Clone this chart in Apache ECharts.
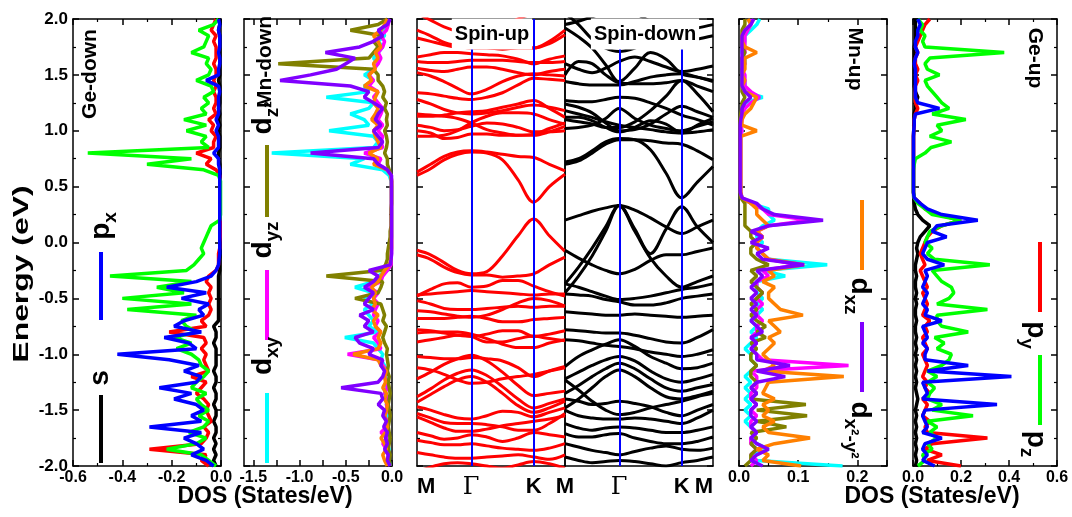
<!DOCTYPE html>
<html lang="en">
<head>
<meta charset="UTF-8">
<title>DOS and band structure</title>
<script src="https://cdn.jsdelivr.net/npm/echarts@6/dist/echarts.min.js"></script>
<style>
  html, body { margin: 0; padding: 0; background: #fff; }
  #chart { width: 1072px; height: 517px; }
</style>
</head>
<body>
<div id="chart"></div>
<script>
// energy grid of the DOS curves (eV)
var energy = [-2.00,-1.95,-1.90,-1.85,-1.80,-1.75,-1.70,-1.65,-1.60,-1.55,
  -1.50,-1.45,-1.40,-1.35,-1.30,-1.25,-1.20,-1.15,-1.10,-1.05,
  -1.00,-0.95,-0.90,-0.85,-0.80,-0.75,-0.70,-0.65,-0.60,-0.55,
  -0.50,-0.45,-0.40,-0.35,-0.30,-0.25,-0.20,-0.15,-0.10,-0.05,
  0.00,0.05,0.10,0.15,0.20,0.25,0.30,0.35,0.40,0.45,
  0.50,0.55,0.60,0.65,0.70,0.75,0.80,0.85,0.90,0.95,
  1.00,1.05,1.10,1.15,1.20,1.25,1.30,1.35,1.40,1.45,
  1.50,1.55,1.60,1.65,1.70,1.75,1.80,1.85,1.90,1.95,
  2.00];

// Ge spin-down PDOS (negative side)
var geDownS = [-0.02,-0.03,-0.02,-0.03,-0.02,-0.03,-0.02,-0.02,-0.03,-0.02,
  -0.02,-0.03,-0.02,-0.02,-0.03,-0.02,-0.02,-0.03,-0.02,-0.02,
  -0.02,-0.02,-0.03,-0.02,-0.02,-0.03,-0.01,-0.01,-0.01,-0.01,
  -0.01,-0.01,-0.01,-0.01,-0.01,-0.005,-0.005,-0.005,-0.003,-0.003,
  -0.003,-0.003,-0.003,-0.003,-0.003,-0.003,-0.003,-0.003,-0.003,-0.003,
  -0.003,-0.003,-0.003,-0.005,-0.005,-0.01,-0.01,-0.005,-0.005,-0.005,
  -0.01,-0.005,-0.01,-0.005,-0.01,-0.005,-0.005,-0.005,-0.005,-0.01,
  -0.005,-0.005,-0.005,-0.005,-0.005,-0.005,-0.005,-0.005,-0.01,-0.005,
  -0.005];
var geDownPy = [-0.05,-0.08,-0.06,-0.29,-0.08,-0.06,-0.05,-0.07,-0.04,-0.05,
  -0.06,-0.05,-0.07,-0.10,-0.08,-0.06,-0.12,-0.05,-0.06,-0.07,
  -0.06,-0.08,-0.06,-0.07,-0.21,-0.06,-0.08,-0.05,-0.04,-0.05,
  -0.04,-0.05,-0.04,-0.06,-0.05,-0.02,-0.01,-0.01,-0.01,-0.005,
  -0.005,-0.003,-0.003,-0.003,-0.003,-0.003,-0.003,-0.003,-0.003,-0.003,
  -0.003,-0.003,-0.005,-0.02,-0.06,-0.04,-0.10,-0.03,-0.03,-0.02,
  -0.04,-0.03,-0.05,-0.02,-0.03,-0.02,-0.02,-0.03,-0.02,-0.03,
  -0.02,-0.02,-0.03,-0.02,-0.02,-0.02,-0.03,-0.02,-0.04,-0.03,
  -0.02];
var geDownPz = [-0.02,-0.05,-0.08,-0.22,-0.10,-0.06,-0.13,-0.07,-0.05,-0.09,
  -0.05,-0.08,-0.10,-0.06,-0.12,-0.10,-0.07,-0.05,-0.08,-0.09,
  -0.12,-0.18,-0.12,-0.19,-0.10,-0.14,-0.16,-0.10,-0.38,-0.12,
  -0.40,-0.15,-0.26,-0.12,-0.45,-0.14,-0.11,-0.09,-0.07,-0.08,
  -0.07,-0.06,-0.05,-0.04,-0.005,-0.002,-0.002,-0.002,-0.002,-0.002,
  -0.002,-0.002,-0.01,-0.07,-0.30,-0.12,-0.54,-0.05,-0.08,-0.06,
  -0.14,-0.06,-0.15,-0.06,-0.08,-0.05,-0.07,-0.03,-0.04,-0.10,
  -0.05,-0.04,-0.06,-0.05,-0.12,-0.07,-0.06,-0.05,-0.09,-0.03,
  -0.01];
var geDownPx = [-0.03,-0.06,-0.12,-0.07,-0.10,-0.15,-0.08,-0.29,-0.08,-0.12,
  -0.07,-0.10,-0.19,-0.12,-0.25,-0.10,-0.08,-0.15,-0.09,-0.21,
  -0.42,-0.10,-0.13,-0.23,-0.08,-0.19,-0.15,-0.07,-0.09,-0.05,
  -0.16,-0.06,-0.22,-0.10,-0.04,-0.02,-0.01,-0.008,-0.005,-0.005,
  -0.005,-0.005,-0.005,-0.005,-0.005,-0.005,-0.005,-0.005,-0.005,-0.005,
  -0.005,-0.005,-0.005,-0.005,-0.01,-0.01,-0.03,-0.01,-0.01,-0.01,
  -0.02,-0.01,-0.02,-0.01,-0.01,-0.01,-0.01,-0.005,-0.01,-0.06,
  -0.01,-0.01,-0.005,-0.005,-0.01,-0.005,-0.005,-0.005,-0.01,-0.005,
  -0.01];

// Mn spin-down PDOS
var mnDownDxy = [-0.02,-0.03,-0.04,-0.03,-0.05,-0.03,-0.04,-0.06,-0.04,-0.05,
  -0.04,-0.06,-0.05,-0.08,-0.06,-0.05,-0.07,-0.06,-0.08,-0.12,
  -0.10,-0.15,-0.20,-0.51,-0.15,-0.25,-0.20,-0.25,-0.30,-0.20,
  -0.30,-0.20,-0.40,-0.20,-0.15,-0.05,-0.02,-0.01,-0.01,-0.01,
  -0.01,-0.005,-0.005,-0.005,-0.005,-0.005,-0.005,-0.005,-0.005,-0.005,
  -0.005,-0.01,-0.03,-0.10,-0.45,-0.30,-1.30,-0.20,-0.15,-0.20,
  -0.68,-0.25,-0.30,-0.45,-0.25,-0.20,-0.71,-0.25,-0.30,-0.20,
  -0.30,-0.20,-0.15,-0.20,-0.15,-0.10,-0.15,-0.08,-0.10,-0.05,
  -0.03];
var mnDownDyz = [-0.03,-0.05,-0.04,-0.06,-0.10,-0.05,-0.12,-0.06,-0.05,-0.08,
  -0.05,-0.06,-0.04,-0.08,-0.05,-0.06,-0.08,-0.05,-0.10,-0.15,
  -0.48,-0.12,-0.15,-0.20,-0.12,-0.18,-0.15,-0.20,-0.18,-0.15,
  -0.20,-0.15,-0.25,-0.12,-0.10,-0.05,-0.01,-0.01,-0.005,-0.005,
  -0.005,-0.005,-0.005,-0.005,-0.005,-0.005,-0.005,-0.005,-0.005,-0.005,
  -0.005,-0.005,-0.01,-0.05,-0.15,-0.12,-0.30,-0.10,-0.12,-0.10,
  -0.15,-0.10,-0.15,-0.12,-0.10,-0.15,-0.20,-0.15,-0.25,-0.20,
  -0.25,-0.20,-0.15,-0.12,-0.15,-0.10,-0.08,-0.12,-0.06,-0.04,
  -0.03];
var mnDownDz2 = [-0.02,-0.03,-0.02,-0.04,-0.03,-0.02,-0.03,-0.04,-0.03,-0.02,
  -0.03,-0.04,-0.03,-0.02,-0.03,-0.04,-0.03,-0.05,-0.04,-0.05,
  -0.06,-0.05,-0.08,-0.10,-0.08,-0.06,-0.10,-0.08,-0.10,-0.12,
  -0.40,-0.15,-0.12,-0.10,-0.71,-0.12,-0.07,-0.05,-0.05,-0.04,
  -0.03,-0.02,-0.02,-0.01,-0.01,-0.01,-0.01,-0.005,-0.005,-0.005,
  -0.005,-0.005,-0.01,-0.03,-0.05,-0.05,-0.08,-0.06,-0.05,-0.06,
  -0.08,-0.05,-0.06,-0.05,-0.08,-0.06,-0.10,-0.08,-0.10,-0.15,
  -0.15,-0.20,-1.23,-0.25,-0.20,-0.15,-0.20,-0.10,-0.45,-0.15,
  -0.05];
var mnDownDxz = [-0.05,-0.08,-0.10,-0.06,-0.08,-0.12,-0.07,-0.05,-0.06,-0.08,
  -0.06,-0.05,-0.08,-0.06,-0.10,-0.07,-0.08,-0.06,-0.12,-0.15,
  -0.42,-0.15,-0.12,-0.15,-0.12,-0.18,-0.20,-0.15,-0.22,-0.18,
  -0.20,-0.18,-0.22,-0.15,-0.12,-0.08,-0.03,-0.01,-0.01,-0.005,
  -0.005,-0.005,-0.005,-0.005,-0.005,-0.005,-0.005,-0.005,-0.005,-0.005,
  -0.005,-0.005,-0.01,-0.05,-0.20,-0.15,-0.25,-0.12,-0.15,-0.18,
  -0.20,-0.15,-0.22,-0.18,-0.15,-0.20,-0.18,-0.15,-0.30,-0.22,
  -0.25,-0.18,-0.20,-0.15,-0.18,-0.12,-0.15,-0.20,-0.12,-0.08,
  -0.05];
var mnDownDx2y2 = [-0.02,-0.05,-0.04,-0.08,-0.05,-0.07,-0.05,-0.09,-0.06,-0.10,
  -0.08,-0.15,-0.10,-0.12,-0.55,-0.15,-0.10,-0.08,-0.12,-0.10,
  -0.25,-0.20,-0.35,-0.40,-0.20,-0.30,-0.25,-0.35,-0.20,-0.30,
  -0.25,-0.20,-0.30,-0.20,-0.15,-0.25,-0.02,-0.01,-0.005,-0.005,
  -0.005,-0.005,-0.005,-0.005,-0.005,-0.005,-0.005,-0.005,-0.005,-0.005,
  -0.005,-0.005,-0.005,-0.05,-0.15,-0.20,-0.88,-0.15,-0.10,-0.15,
  -0.20,-0.12,-0.18,-0.15,-0.10,-0.20,-0.30,-0.25,-0.45,-1.21,
  -0.88,-0.60,-0.50,-0.40,-0.72,-0.35,-0.20,-0.10,-0.15,-0.05,
  -0.02];

// Mn spin-up PDOS
var mnUpDxy = [0.175,0.03,0.02,0.05,0.03,0.02,0.03,0.02,0.01,0.02,
  0.01,0.02,0.01,0.02,0.01,0.02,0.01,0.02,0.03,0.02,
  0.02,0.01,0.02,0.03,0.02,0.03,0.02,0.03,0.04,0.03,
  0.04,0.03,0.03,0.03,0.078,0.04,0.149,0.05,0.04,0.03,
  0.04,0.03,0.03,0.04,0.06,0.05,0.05,0.02,0.005,0.003,
  0.003,0.003,0.003,0.003,0.003,0.003,0.003,0.003,0.003,0.003,
  0.005,0.003,0.003,0.005,0.01,0.01,0.04,0.01,0.01,0.01,
  0.005,0.005,0.01,0.01,0.005,0.005,0.01,0.01,0.02,0.03,
  0.035];
var mnUpDyz = [0.02,0.03,0.02,0.03,0.02,0.02,0.03,0.02,0.02,0.03,
  0.02,0.03,0.02,0.02,0.03,0.03,0.03,0.02,0.185,0.04,
  0.03,0.02,0.03,0.02,0.03,0.03,0.04,0.03,0.03,0.04,
  0.03,0.04,0.03,0.03,0.05,0.04,0.10,0.05,0.04,0.03,
  0.03,0.04,0.03,0.05,0.12,0.05,0.04,0.02,0.005,0.003,
  0.003,0.003,0.003,0.003,0.003,0.003,0.003,0.003,0.003,0.003,
  0.005,0.003,0.005,0.005,0.01,0.02,0.035,0.02,0.01,0.01,
  0.01,0.005,0.01,0.005,0.01,0.01,0.01,0.01,0.015,0.02,
  0.02];
var mnUpDz2 = [0.01,0.02,0.02,0.03,0.02,0.03,0.02,0.08,0.03,0.115,
  0.03,0.113,0.02,0.03,0.02,0.03,0.02,0.02,0.03,0.02,
  0.02,0.03,0.02,0.045,0.03,0.045,0.03,0.02,0.03,0.02,
  0.03,0.04,0.03,0.02,0.03,0.02,0.05,0.03,0.02,0.02,
  0.03,0.02,0.02,0.01,0.01,0.01,0.01,0.01,0.003,0.002,
  0.002,0.002,0.002,0.002,0.002,0.002,0.002,0.002,0.002,0.002,
  0.002,0.002,0.002,0.003,0.005,0.005,0.01,0.005,0.005,0.005,
  0.005,0.005,0.005,0.005,0.01,0.005,0.005,0.005,0.005,0.01,
  0.01];
var mnUpDxz = [0.105,0.04,0.05,0.03,0.06,0.12,0.05,0.04,0.06,0.04,
  0.05,0.04,0.06,0.04,0.045,0.05,0.177,0.04,0.06,0.05,
  0.04,0.05,0.06,0.05,0.07,0.06,0.05,0.108,0.07,0.06,
  0.05,0.05,0.06,0.04,0.06,0.05,0.11,0.05,0.04,0.03,
  0.03,0.04,0.03,0.05,0.04,0.03,0.03,0.02,0.005,0.003,
  0.003,0.003,0.003,0.003,0.003,0.003,0.003,0.003,0.003,0.003,
  0.03,0.005,0.005,0.01,0.02,0.025,0.03,0.01,0.005,0.01,
  0.005,0.01,0.01,0.01,0.03,0.01,0.005,0.005,0.01,0.02,
  0.015];
var mnUpDx2y2 = [0.04,0.02,0.03,0.05,0.03,0.02,0.03,0.02,0.03,0.02,
  0.02,0.03,0.02,0.03,0.02,0.03,0.078,0.03,0.086,0.03,
  0.03,0.02,0.03,0.02,0.04,0.03,0.02,0.03,0.02,0.03,
  0.02,0.03,0.02,0.03,0.04,0.03,0.11,0.04,0.03,0.05,
  0.02,0.04,0.02,0.05,0.142,0.06,0.04,0.03,0.005,0.002,
  0.002,0.002,0.002,0.002,0.002,0.002,0.002,0.002,0.002,0.002,
  0.002,0.002,0.003,0.005,0.005,0.01,0.02,0.01,0.005,0.005,
  0.005,0.005,0.005,0.005,0.005,0.005,0.005,0.005,0.01,0.02,
  0.025];

// Ge spin-up PDOS
var geUpS = [0.01,0.015,0.01,0.015,0.01,0.015,0.01,0.015,0.01,0.015,
  0.01,0.015,0.02,0.015,0.01,0.015,0.01,0.015,0.01,0.015,
  0.01,0.015,0.01,0.015,0.01,0.01,0.015,0.01,0.01,0.015,
  0.01,0.015,0.01,0.01,0.015,0.01,0.01,0.015,0.02,0.015,
  0.02,0.03,0.05,0.07,0.04,0.02,0.01,0.005,0.003,0.002,
  0.002,0.002,0.002,0.002,0.002,0.002,0.002,0.002,0.002,0.002,
  0.003,0.003,0.005,0.005,0.01,0.01,0.02,0.01,0.005,0.005,
  0.005,0.005,0.005,0.005,0.005,0.005,0.01,0.01,0.01,0.01,
  0.01];
var geUpPy = [0.20,0.06,0.12,0.05,0.08,0.31,0.06,0.05,0.07,0.04,
  0.05,0.06,0.04,0.07,0.05,0.06,0.04,0.05,0.06,0.05,
  0.04,0.06,0.05,0.04,0.06,0.05,0.07,0.04,0.05,0.06,
  0.05,0.04,0.06,0.05,0.04,0.03,0.05,0.04,0.03,0.04,
  0.05,0.06,0.08,0.12,0.20,0.10,0.05,0.03,0.005,0.002,
  0.002,0.002,0.002,0.002,0.002,0.002,0.002,0.002,0.002,0.002,
  0.003,0.005,0.005,0.01,0.02,0.01,0.01,0.01,0.01,0.02,
  0.01,0.02,0.01,0.01,0.02,0.01,0.02,0.03,0.04,0.05,
  0.07];
var geUpPz = [0.02,0.05,0.04,0.08,0.06,0.10,0.07,0.10,0.06,0.25,
  0.08,0.12,0.06,0.07,0.09,0.06,0.10,0.06,0.12,0.15,
  0.16,0.10,0.13,0.09,0.23,0.12,0.10,0.10,0.31,0.10,
  0.15,0.17,0.16,0.12,0.10,0.08,0.32,0.09,0.06,0.08,
  0.05,0.06,0.07,0.12,0.20,0.08,0.05,0.02,0.005,0.002,
  0.002,0.002,0.002,0.002,0.005,0.01,0.05,0.075,0.16,0.07,
  0.12,0.10,0.22,0.08,0.15,0.12,0.10,0.08,0.06,0.05,
  0.11,0.06,0.05,0.07,0.38,0.05,0.04,0.05,0.03,0.04,
  0.02];
var geUpPx = [0.09,0.04,0.06,0.04,0.05,0.12,0.04,0.06,0.05,0.04,
  0.05,0.35,0.04,0.06,0.05,0.04,0.41,0.06,0.23,0.05,
  0.05,0.06,0.04,0.06,0.05,0.04,0.12,0.05,0.06,0.04,
  0.05,0.06,0.04,0.05,0.06,0.05,0.13,0.06,0.04,0.05,
  0.06,0.14,0.08,0.10,0.27,0.12,0.06,0.03,0.005,0.002,
  0.002,0.002,0.002,0.002,0.002,0.002,0.002,0.002,0.002,0.002,
  0.003,0.005,0.005,0.01,0.11,0.02,0.01,0.01,0.01,0.01,
  0.01,0.01,0.005,0.01,0.02,0.01,0.01,0.02,0.02,0.03,
  0.02];

// k-path M-Γ-K-M and band energies sampled on it
var kPath = [0, 0.2165, 0.433, 0.6495, 0.866, 1.116, 1.366, 1.616, 1.866, 2.116, 2.366];
var kTicks = [0, 0.866, 1.866, 2.366];
var kNames = ['M', 'Γ', 'K', 'M'];

var upBands = [
  [0.60, 0.66, 0.74, 0.79, 0.81, 0.80, 0.74, 0.56, 0.36, 0.50, 0.61],
  [0.63, 0.70, 0.77, 0.81, 0.82, 0.81, 0.79, 0.77, 0.76, 0.70, 0.64],
  [1.00, 0.98, 0.93, 0.94, 0.97, 0.97, 0.96, 0.96, 0.96, 0.99, 1.04],
  [1.05, 1.03, 1.00, 1.01, 1.04, 1.07, 1.06, 1.03, 0.99, 0.99, 1.00],
  [0.95, 0.95, 0.96, 1.00, 1.07, 1.13, 1.16, 1.16, 1.15, 1.10, 1.06],
  [1.15, 1.14, 1.13, 1.11, 1.07, 1.01, 0.98, 0.96, 0.97, 1.02, 1.07],
  [1.13, 1.13, 1.14, 1.16, 1.17, 1.18, 1.21, 1.24, 1.27, 1.20, 1.12],
  [1.28, 1.24, 1.19, 1.16, 1.15, 1.16, 1.18, 1.21, 1.23, 1.21, 1.18],
  [1.52, 1.49, 1.44, 1.38, 1.33, 1.37, 1.44, 1.49, 1.51, 1.50, 1.49],
  [1.34, 1.33, 1.31, 1.29, 1.28, 1.30, 1.34, 1.41, 1.47, 1.46, 1.45],
  [1.56, 1.54, 1.53, 1.55, 1.57, 1.57, 1.55, 1.52, 1.50, 1.53, 1.55],
  [1.62, 1.61, 1.61, 1.62, 1.63, 1.63, 1.63, 1.62, 1.61, 1.61, 1.62],
  [1.66, 1.68, 1.70, 1.70, 1.69, 1.68, 1.67, 1.64, 1.60, 1.64, 1.67],
  [1.90, 1.85, 1.79, 1.76, 1.74, 1.74, 1.73, 1.74, 1.74, 1.80, 1.90],
  [1.83, 1.80, 1.77, 1.75, 1.75, 1.76, 1.78, 1.77, 1.74, 1.78, 1.86],
  [2.05, 1.99, 1.93, 1.89, 1.87, 1.89, 1.94, 2.00, 2.05, 2.06, 2.03],
  [-0.07, -0.11, -0.18, -0.25, -0.28, -0.26, -0.12, 0.06, 0.21, 0.06, -0.08],
  [-0.11, -0.15, -0.22, -0.27, -0.29, -0.29, -0.31, -0.30, -0.28, -0.20, -0.13],
  [-0.47, -0.46, -0.45, -0.44, -0.43, -0.44, -0.45, -0.46, -0.47, -0.46, -0.46],
  [-0.48, -0.42, -0.37, -0.36, -0.40, -0.39, -0.34, -0.34, -0.39, -0.44, -0.48],
  [-0.52, -0.55, -0.59, -0.60, -0.60, -0.59, -0.58, -0.57, -0.58, -0.57, -0.57],
  [-0.61, -0.62, -0.64, -0.66, -0.67, -0.65, -0.60, -0.54, -0.50, -0.52, -0.57],
  [-0.68, -0.68, -0.68, -0.67, -0.66, -0.68, -0.71, -0.71, -0.69, -0.68, -0.67],
  [-0.78, -0.79, -0.81, -0.83, -0.84, -0.82, -0.79, -0.79, -0.84, -0.82, -0.79],
  [-0.81, -0.80, -0.80, -0.80, -0.82, -0.86, -0.91, -0.94, -0.94, -0.90, -0.87],
  [-0.89, -0.87, -0.85, -0.83, -0.84, -0.89, -0.89, -0.86, -0.84, -0.86, -0.88],
  [-1.22, -1.16, -1.09, -1.04, -1.01, -1.06, -1.16, -1.28, -1.37, -1.35, -1.33],
  [-1.38, -1.31, -1.23, -1.17, -1.14, -1.19, -1.29, -1.40, -1.48, -1.44, -1.40],
  [-1.43, -1.36, -1.29, -1.23, -1.20, -1.25, -1.35, -1.46, -1.52, -1.48, -1.42],
  [-1.02, -1.03, -1.04, -1.04, -1.03, -1.04, -1.06, -1.12, -1.20, -1.15, -1.11],
  [-1.12, -1.14, -1.18, -1.23, -1.26, -1.25, -1.22, -1.20, -1.18, -1.15, -1.12],
  [-1.53, -1.57, -1.61, -1.62, -1.62, -1.63, -1.65, -1.68, -1.68, -1.62, -1.53],
  [-1.56, -1.61, -1.66, -1.69, -1.69, -1.67, -1.64, -1.62, -1.60, -1.58, -1.55],
  [-1.77, -1.79, -1.81, -1.81, -1.80, -1.82, -1.84, -1.85, -1.86, -1.84, -1.80],
  [-1.88, -1.90, -1.92, -1.93, -1.93, -1.92, -1.91, -1.90, -1.92, -1.94, -1.90],
  [-1.70, -1.73, -1.76, -1.75, -1.72, -1.74, -1.78, -1.75, -1.70, -1.72, -1.74],
  [-1.47, -1.50, -1.54, -1.57, -1.58, -1.55, -1.51, -1.52, -1.56, -1.52, -1.48],
  [-2.05, -2.01, -1.98, -1.97, -1.98, -2.00, -2.02, -1.99, -1.96, -1.98, -2.02]
];

var downBands = [
  [0.72, 0.75, 0.82, 0.90, 0.93, 0.92, 0.83, 0.62, 0.40, 0.54, 0.68],
  [0.70, 0.73, 0.80, 0.88, 0.92, 0.92, 0.91, 0.89, 0.88, 0.82, 0.74],
  [1.12, 1.12, 1.09, 1.03, 0.99, 1.03, 1.09, 1.06, 0.98, 1.05, 1.11],
  [1.02, 1.03, 1.05, 1.11, 1.20, 1.11, 1.05, 1.02, 1.00, 1.04, 1.08],
  [1.27, 1.26, 1.26, 1.28, 1.30, 1.29, 1.25, 1.20, 1.14, 1.10, 1.05],
  [1.24, 1.21, 1.16, 1.07, 1.00, 1.01, 1.06, 1.15, 1.22, 1.17, 1.12],
  [1.10, 1.08, 1.06, 1.03, 1.03, 1.08, 1.18, 1.31, 1.45, 1.33, 1.17],
  [1.92, 1.84, 1.74, 1.59, 1.44, 1.56, 1.70, 1.64, 1.51, 1.48, 1.45],
  [1.50, 1.62, 1.60, 1.50, 1.43, 1.42, 1.42, 1.43, 1.45, 1.40, 1.35],
  [1.44, 1.42, 1.41, 1.41, 1.41, 1.44, 1.48, 1.50, 1.51, 1.48, 1.44],
  [2.05, 1.95, 1.82, 1.74, 1.71, 1.74, 1.80, 1.84, 1.80, 1.82, 1.85],
  [1.18, 1.15, 1.12, 1.08, 1.05, 1.03, 1.01, 0.99, 0.98, 0.99, 1.01],
  [1.95, 1.98, 2.02, 2.06, 2.08, 2.05, 1.98, 1.93, 1.90, 1.92, 1.95],
  [1.60, 1.55, 1.52, 1.56, 1.62, 1.66, 1.62, 1.57, 1.53, 1.55, 1.58],
  [0.20, 0.24, 0.28, 0.31, 0.33, 0.29, 0.22, 0.14, 0.08, 0.14, 0.20],
  [-0.37, -0.22, -0.05, 0.14, 0.33, 0.12, -0.10, 0.12, 0.32, 0.14, 0.00],
  [-0.45, -0.30, -0.12, 0.10, 0.33, 0.10, -0.14, -0.30, -0.40, -0.35, -0.30],
  [-0.07, -0.14, -0.20, -0.25, -0.28, -0.24, -0.16, -0.11, -0.11, -0.08, -0.05],
  [-0.37, -0.40, -0.44, -0.48, -0.51, -0.50, -0.48, -0.45, -0.42, -0.40, -0.37],
  [-0.46, -0.47, -0.48, -0.51, -0.53, -0.56, -0.56, -0.54, -0.50, -0.48, -0.46],
  [-0.62, -0.63, -0.64, -0.65, -0.65, -0.64, -0.65, -0.66, -0.67, -0.66, -0.65],
  [-0.78, -0.79, -0.80, -0.81, -0.81, -0.83, -0.86, -0.89, -0.90, -0.85, -0.78],
  [-1.11, -1.02, -0.96, -0.91, -0.87, -0.93, -1.02, -1.08, -1.13, -1.12, -1.08],
  [-1.22, -1.16, -1.10, -1.05, -1.02, -1.06, -1.15, -1.22, -1.25, -1.22, -1.18],
  [-1.35, -1.28, -1.20, -1.13, -1.08, -1.13, -1.22, -1.30, -1.33, -1.30, -1.27],
  [-1.48, -1.40, -1.30, -1.20, -1.14, -1.20, -1.30, -1.38, -1.40, -1.37, -1.33],
  [-0.87, -0.88, -0.90, -0.92, -0.93, -0.95, -0.98, -1.00, -1.02, -1.00, -0.96],
  [-1.23, -1.32, -1.42, -1.50, -1.54, -1.52, -1.48, -1.45, -1.42, -1.38, -1.35],
  [-1.50, -1.55, -1.57, -1.58, -1.58, -1.57, -1.58, -1.60, -1.62, -1.57, -1.50],
  [-1.71, -1.74, -1.74, -1.72, -1.71, -1.75, -1.78, -1.80, -1.80, -1.78, -1.74],
  [-1.80, -1.83, -1.86, -1.88, -1.90, -1.87, -1.84, -1.82, -1.85, -1.86, -1.84],
  [-1.92, -1.95, -1.97, -1.96, -1.95, -1.96, -1.98, -2.00, -1.97, -1.95, -1.92],
  [-1.62, -1.66, -1.68, -1.66, -1.65, -1.66, -1.68, -1.70, -1.70, -1.68, -1.65],
  [-1.40, -1.42, -1.45, -1.44, -1.42, -1.44, -1.47, -1.52, -1.55, -1.50, -1.45]
];

var FONT = '"Liberation Sans", Arial, sans-serif';
var C = {
  s: '#000000', px: '#0000ff', py: '#ff0000', pz: '#00ff00',
  dxy: '#00ffff', dyz: '#ff00ff', dz2: '#808000', dxz: '#ff8000', dx2y2: '#8000ff'
};

var chart = echarts.init(document.getElementById('chart'), null, { renderer: 'canvas' });

var boxes = [
  { left: 73, width: 148 },   // Ge-down
  { left: 244, width: 148 },  // Mn-down
  { left: 417, width: 148 },  // spin-up bands
  { left: 565, width: 148 },  // spin-down bands
  { left: 739, width: 148 },  // Mn-up
  { left: 913, width: 144 }   // Ge-up
];
var grid = boxes.map(function (b) {
  return { left: b.left, width: b.width, top: 19, height: 447, containLabel: false };
});

var lineBlack = { color: '#000', width: 1.5 };
var tickStyle = { inside: true, length: 6, lineStyle: { color: '#000', width: 1.5 } };
var minorStyle = { show: true, splitNumber: 2, length: 3, lineStyle: { color: '#000', width: 1.2 } };
var labelStyle = { color: '#000', fontFamily: FONT, fontWeight: 'bold', fontSize: 16 };
function fmt1(v) { return v.toFixed(1); }

var xAxis = [], yAxis = [];
var xRanges = [
  { min: -0.6, max: 0, interval: 0.2 },
  { min: -1.6, max: 0, custom: [-1.5, -1.0, -0.5, 0], ticks: [-1.5, -1.25, -1.0, -0.75, -0.5, -0.25, 0] },
  { min: 0, max: 2.366, band: 'up' },
  { min: 0, max: 2.366, band: 'down' },
  { min: 0, max: 0.25, interval: 0.1 },
  { min: 0, max: 0.6, interval: 0.2 }
];

function bandLabel(v) {
  var best = 0;
  for (var i = 1; i < kTicks.length; i++) {
    if (Math.abs(kTicks[i] - v) < Math.abs(kTicks[best] - v)) best = i;
  }
  return kNames[best] === 'Γ' ? '{g|Γ}' : kNames[best];
}

xRanges.forEach(function (r, gi) {
  var bottom = {
    type: 'value', gridIndex: gi, position: 'bottom', min: r.min, max: r.max,
    axisLine: { show: true, onZero: false, lineStyle: lineBlack },
    splitLine: { show: false }
  };
  var top = {
    type: 'value', gridIndex: gi, position: 'top', min: r.min, max: r.max,
    axisLine: { show: true, onZero: false, lineStyle: lineBlack },
    axisLabel: { show: false }, splitLine: { show: false }
  };
  if (r.band) {
    var vals = r.band === 'up' ? kTicks.slice(0, 3) : kTicks.slice();
    bottom.axisTick = { show: false };
    bottom.axisLabel = {
      customValues: vals, formatter: bandLabel, margin: 10,
      color: '#000', fontFamily: FONT, fontWeight: 'bold', fontSize: 22,
      alignMinLabel: r.band === 'up' ? 'left' : 'center',
      alignMaxLabel: r.band === 'down' ? 'right' : 'center',
      rich: { g: { fontFamily: '"DejaVu Serif", serif', fontWeight: 'normal', fontSize: 24, color: '#000' } }
    };
    top.axisTick = { show: false };
  } else if (r.custom) {
    bottom.axisTick = Object.assign({ customValues: r.ticks }, tickStyle);
    bottom.axisLabel = Object.assign({ customValues: r.custom, formatter: fmt1, margin: 4 }, labelStyle);
    top.axisTick = Object.assign({ customValues: r.ticks }, tickStyle);
  } else {
    bottom.interval = r.interval; top.interval = r.interval;
    bottom.axisTick = tickStyle; top.axisTick = tickStyle;
    bottom.minorTick = minorStyle; top.minorTick = minorStyle;
    bottom.axisLabel = Object.assign({ formatter: fmt1, margin: 4, showMaxLabel: r.max === 0.25 ? false : true }, labelStyle);
  }
  xAxis.push(bottom, top);

  var left = {
    type: 'value', gridIndex: gi, position: 'left', min: -2, max: 2, interval: 0.5,
    axisLine: { show: true, onZero: false, lineStyle: lineBlack },
    axisTick: gi === 3 ? { show: false } : tickStyle,
    minorTick: gi === 3 ? { show: false } : minorStyle,
    splitLine: { show: false },
    axisLabel: gi === 0 ? Object.assign({ formatter: fmt1, margin: 5 }, labelStyle, { fontSize: 17 }) : { show: false }
  };
  var right = {
    type: 'value', gridIndex: gi, position: 'right', min: -2, max: 2, interval: 0.5,
    axisLine: { show: true, onZero: false, lineStyle: lineBlack },
    axisTick: gi === 2 ? { show: false } : tickStyle,
    minorTick: gi === 2 ? { show: false } : minorStyle,
    splitLine: { show: false }, axisLabel: { show: false }
  };
  yAxis.push(left, right);
});

var series = [];
function dos(vals, color, gi) {
  series.push({
    type: 'line', xAxisIndex: 2 * gi, yAxisIndex: 2 * gi,
    data: energy.map(function (e, i) { return [vals[i], e]; }),
    symbol: 'none', clip: true, silent: true,
    lineStyle: { color: color, width: 3.5 }, itemStyle: { color: color }
  });
}
function bands(list, color, gi) {
  list.forEach(function (b, j) {
    var s = {
      type: 'line', xAxisIndex: 2 * gi, yAxisIndex: 2 * gi,
      data: kPath.map(function (k, i) { return [k, b[i]]; }),
      symbol: 'none', smooth: 0.35, clip: true, silent: true,
      lineStyle: { color: color, width: 3 }, itemStyle: { color: color }
    };
    if (j === list.length - 1) {
      s.markLine = {
        silent: true, symbol: 'none', label: { show: false },
        lineStyle: { color: '#0000ff', width: 2, type: 'solid' },
        data: [{ xAxis: kTicks[1] }, { xAxis: kTicks[2] }]
      };
    }
    series.push(s);
  });
}

dos(geDownS, C.s, 0); dos(geDownPy, C.py, 0); dos(geDownPz, C.pz, 0); dos(geDownPx, C.px, 0);
dos(mnDownDxy, C.dxy, 1); dos(mnDownDyz, C.dyz, 1); dos(mnDownDz2, C.dz2, 1); dos(mnDownDxz, C.dxz, 1); dos(mnDownDx2y2, C.dx2y2, 1);
bands(upBands, '#ff0000', 2);
bands(downBands, '#000000', 3);
dos(mnUpDxy, C.dxy, 4); dos(mnUpDyz, C.dyz, 4); dos(mnUpDz2, C.dz2, 4); dos(mnUpDxz, C.dxz, 4); dos(mnUpDx2y2, C.dx2y2, 4);
dos(geUpS, C.s, 5); dos(geUpPy, C.py, 5); dos(geUpPz, C.pz, 5); dos(geUpPx, C.px, 5);

// text and legend marks drawn on top
var rich = {
  a: { fontFamily: FONT, fontWeight: 'bold', fontSize: 28, color: '#000', padding: [0, 0, 5, 0], verticalAlign: 'top' },
  b: { fontFamily: FONT, fontWeight: 'bold', fontSize: 19, color: '#000', verticalAlign: 'bottom' }
};
function label(x, y, text, rot, size) {
  return {
    type: 'text', x: x, y: y, rotation: rot, z: 100,
    style: {
      text: text, rich: rich, fill: '#000',
      font: 'bold ' + (size || 21) + 'px ' + FONT,
      align: 'center', verticalAlign: 'middle', textAlign: 'center', textVerticalAlign: 'middle'
    }
  };
}
function key(x, y1, y2, color) {
  return { type: 'line', z: 100, shape: { x1: x, y1: y1, x2: x, y2: y2 }, style: { stroke: color, lineWidth: 4 } };
}
var up = Math.PI / 2, dn = -Math.PI / 2;
var energyTitle = label(22, 274, 'Energy (eV)', up, 22);
energyTitle.scaleX = 1.45;
var graphic = [
  energyTitle,
  label(90, 74, 'Ge-down', up),
  key(101, 395, 463, C.s), label(103, 378, '{a|s}', up),
  key(101, 252, 320, C.px), label(104, 226, '{a|p}{b|x}', up),
  label(265, 62, 'Mn-down', up),
  label(266, 118, '{a|d}{b|z²}', up),
  key(267, 145, 217, C.dz2),
  label(266, 240, '{a|d}{b|yz}', up), key(267, 270, 340, C.dyz),
  label(266, 356, '{a|d}{b|xy}', up), key(267, 393, 463, C.dxy),
  label(855, 59, 'Mn-up', dn),
  key(862, 200, 270, C.dxz), label(857, 296, '{a|d}{b|xz}', dn),
  key(862, 322, 392, C.dx2y2), label(857, 430, '{a|d}{b|x²-y²}', dn),
  label(1035, 58, 'Ge-up', dn),
  key(1040, 242, 312, C.py), label(1033, 335, '{a|p}{b|y}', dn),
  key(1040, 355, 425, C.pz), label(1033, 444, '{a|p}{b|z}', dn),
  {
    type: 'text', x: 492, y: 34, z: 100,
    style: { text: 'Spin-up', font: 'bold 20px ' + FONT, fill: '#000', backgroundColor: '#fff',
      padding: [5, 3, 6, 3], align: 'center', verticalAlign: 'middle', textAlign: 'center', textVerticalAlign: 'middle' }
  },
  {
    type: 'text', x: 645, y: 34, z: 100,
    style: { text: 'Spin-down', font: 'bold 20px ' + FONT, fill: '#000', backgroundColor: '#fff',
      padding: [5, 3, 6, 3], align: 'center', verticalAlign: 'middle', textAlign: 'center', textVerticalAlign: 'middle' }
  },
  label(265, 497, 'DOS (States/eV)', 0, 23),
  label(932, 497, 'DOS (States/eV)', 0, 23)
];

chart.setOption({
  animation: false,
  backgroundColor: '#fff',
  grid: grid,
  xAxis: xAxis,
  yAxis: yAxis,
  series: series,
  graphic: graphic
});
</script>
</body>
</html>
